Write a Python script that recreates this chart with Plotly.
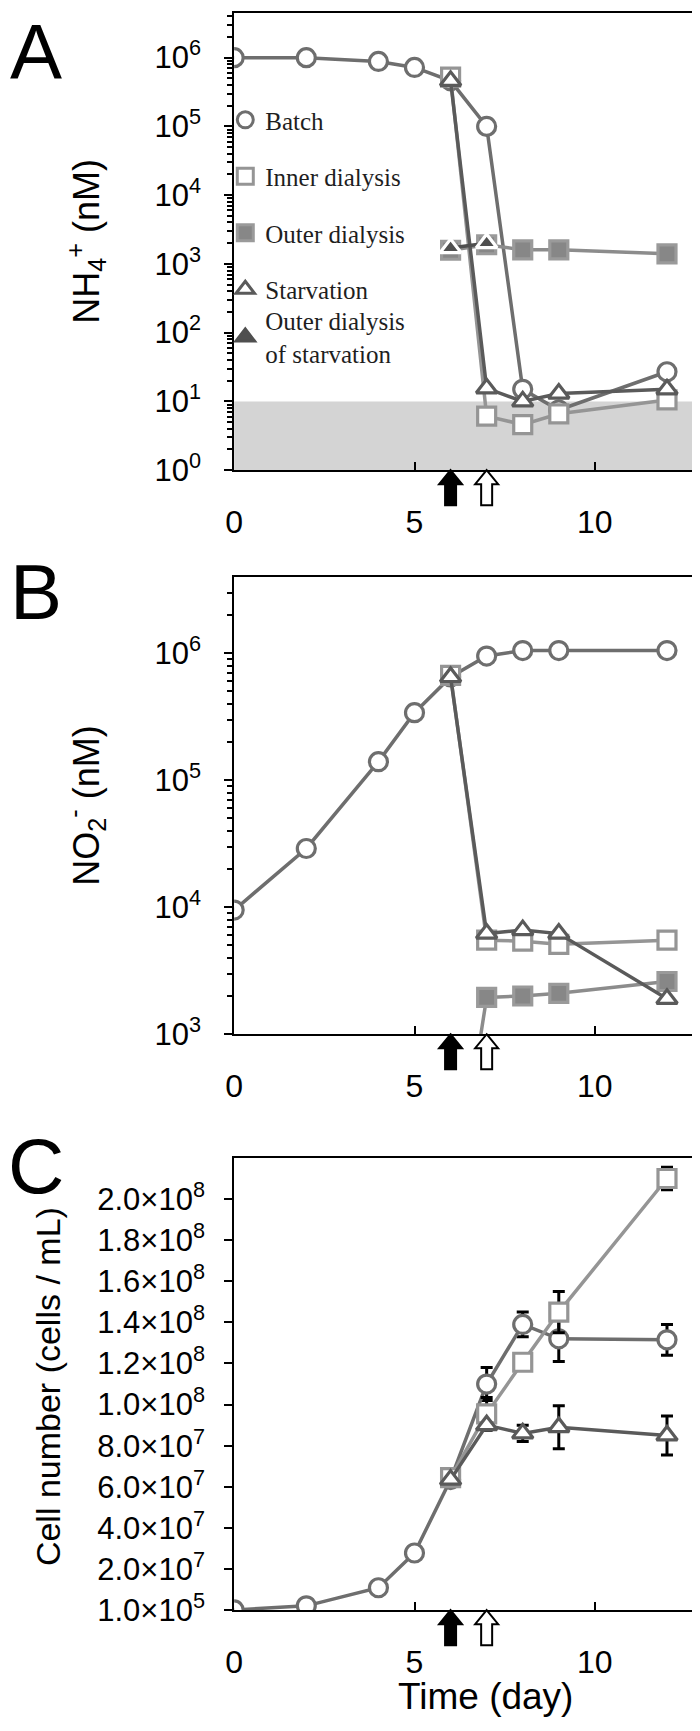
import plotly.graph_objects as go

W, H = 700, 1731

# ---- data ----
days = [0, 2, 4, 5, 6, 7, 8, 9, 12]
days_after = [6, 7, 8, 9, 12]
days_outer_starv = [6, 7]
arrow_days = [6, 7]
arrow_fill = ["black", "white"]

# A: NH4+ (nM)
nh4_batch = [1.0e6, 1.0e6, 8.8e5, 7.2e5, 4.6e5, 1.0e5, 15, 7.5, 27]
nh4_inner = [5.2e5, 6.1, 4.6, 6.6, 10.5]
nh4_outer = [1.58e3, 1.9e3, 1.6e3, 1.6e3, 1.4e3]
nh4_starv = [4.6e5, 15.5, 10, 13, 15]
nh4_outer_starv = [1.7e3, 2.0e3]

# B: NO2- (nM)
no2_batch = [9.5e3, 2.9e4, 1.4e5, 3.4e5, 6.5e5, 9.5e5, 1.05e6, 1.05e6, 1.05e6]
no2_inner = [6.7e5, 5.5e3, 5.4e3, 5.1e3, 5.5e3]
no2_outer = [30, 1.95e3, 2.0e3, 2.1e3, 2.6e3]
no2_starv = [6.5e5, 6.2e3, 6.6e3, 6.2e3, 1.9e3]

# C: cell number (cells / mL)
cell_batch = [1.0e5, 2.1e6, 1.09e7, 2.78e7, 6.35e7, 1.10e8, 1.39e8, 1.32e8, 1.315e8]
cell_batch_err = [0, 0, 0, 0, 0, 8e6, 6e6, 1.1e7, 7.5e6]
cell_inner = [6.45e7, 9.55e7, 1.206e8, 1.45e8, 2.1e8]
cell_inner_err = [0, 8e6, 0, 1e7, 5.5e6]
cell_starv = [6.35e7, 9.0e7, 8.6e7, 8.9e7, 8.5e7]
cell_starv_err = [0, 0, 4e6, 1.05e7, 9.5e6]

log_ticks_a = [1, 10, 100, 1e3, 1e4, 1e5, 1e6]
log_ticks_b = [1e3, 1e4, 1e5, 1e6]
cell_ticks = [1e5, 2e7, 4e7, 6e7, 8e7, 1e8, 1.2e8, 1.4e8, 1.6e8, 1.8e8, 2e8]
cell_ticktext = ["1.0×10<sup>5</sup>", "2.0×10<sup>7</sup>", "4.0×10<sup>7</sup>",
                 "6.0×10<sup>7</sup>", "8.0×10<sup>7</sup>", "1.0×10<sup>8</sup>",
                 "1.2×10<sup>8</sup>", "1.4×10<sup>8</sup>", "1.6×10<sup>8</sup>",
                 "1.8×10<sup>8</sup>", "2.0×10<sup>8</sup>"]

STYLE = {
    "batch": dict(symbol="circle", fill="white", edge="#6e6e6e", line="#6e6e6e", name="Batch"),
    "inner": dict(symbol="square", fill="white", edge="#959595", line="#959595", name="Inner dialysis"),
    "outer": dict(symbol="square", fill="#878787", edge="#9a9a9a", line="#8c8c8c", name="Outer dialysis"),
    "starv": dict(symbol="triangle-up", fill="white", edge="#5a5a5a", line="#5a5a5a", name="Starvation"),
    "ostarv": dict(symbol="triangle-up", fill="#4f4f4f", edge="white", line="#4f4f4f",
                   name="Outer dialysis<br>of starvation"),
}

SANS = "Liberation Sans, Arial, sans-serif"
SERIF = "Liberation Serif, Times New Roman, serif"

fig = go.Figure()


def add_series(x, y, key, n, err=None):
    s = STYLE[key]
    fig.add_trace(go.Scatter(
        x=x, y=y, mode="lines+markers", showlegend=False,
        xaxis="x" if n == 1 else f"x{n}", yaxis="y" if n == 1 else f"y{n}",
        line=dict(color=s["line"], width=3.5),
        marker=dict(symbol=s["symbol"], size=18, color=s["fill"],
                    line=dict(color=s["edge"], width=3.2)),
        error_y=None if err is None else dict(type="data", array=err, color="black",
                                               thickness=3, width=6),
    ))


add_series(days, nh4_batch, "batch", 1)
add_series(days_after, nh4_inner, "inner", 1)
add_series(days_after, nh4_outer, "outer", 1)
add_series(days_after, nh4_starv, "starv", 1)
add_series(days_outer_starv, nh4_outer_starv, "ostarv", 1)

add_series(days, no2_batch, "batch", 2)
add_series(days_after, no2_inner, "inner", 2)
add_series(days_after, no2_outer, "outer", 2)
add_series(days_after, no2_starv, "starv", 2)

add_series(days, cell_batch, "batch", 3, cell_batch_err)
add_series(days_after, cell_inner, "inner", 3, cell_inner_err)
add_series(days_after, cell_starv, "starv", 3, cell_starv_err)

# legend-only markers for panel A; the two-line last entry sits in its own legend box
for key in ["batch", "inner", "outer", "starv", "ostarv"]:
    s = STYLE[key]
    fig.add_trace(go.Scatter(
        x=[None], y=[None], mode="markers", name=s["name"], legendgroup=key,
        legend="legend2" if key == "ostarv" else "legend",
        marker=dict(symbol=s["symbol"], size=20, color=s["fill"],
                    line=dict(color=s["edge"] if key != "ostarv" else s["fill"], width=3)),
    ))

# pixel layout
xl, xr = 220, 695
boxes = {1: (5, 467), 2: (575, 1037), 3: (1162, 1619)}


def ydom(top, bot):
    return [1 - bot / H, 1 - top / H]


axis_common = dict(showline=True, linecolor="black", linewidth=2, mirror=True,
                   showgrid=False, zeroline=False, tickcolor="black", tickwidth=2)

for n in (1, 2, 3):
    sfx = "" if n == 1 else str(n)
    fig.layout[f"xaxis{sfx}"] = dict(
        axis_common, domain=[xl / W, xr / W], range=[0, 13], anchor=f"y{sfx}",
        tickvals=[0, 5, 10], ticks="inside", ticklen=8,
        ticklabelstandoff=22, tickfont=dict(family=SANS, size=32, color="black"),
    )

fig.layout["yaxis"] = dict(
    axis_common, domain=ydom(*boxes[1]), type="log", range=[0, 6.65], anchor="x",
    tickvals=log_ticks_a, ticktext=[f"10<sup>{k}</sup>" for k in range(0, 7)],
    ticks="outside", ticklen=8, ticklabelstandoff=17,
    tickfont=dict(family=SANS, size=31, color="black"),
    minor=dict(ticks="outside", ticklen=5, tickwidth=1.5, tickcolor="black", dtick="D1"),
)
fig.layout["yaxis2"] = dict(
    axis_common, domain=ydom(*boxes[2]), type="log", range=[3, 6.6], anchor="x2",
    tickvals=log_ticks_b, ticktext=[f"10<sup>{k}</sup>" for k in range(3, 7)],
    ticks="outside", ticklen=8, ticklabelstandoff=17,
    tickfont=dict(family=SANS, size=31, color="black"),
    minor=dict(ticks="outside", ticklen=5, tickwidth=1.5, tickcolor="black", dtick="D1"),
)
fig.layout["yaxis3"] = dict(
    axis_common, domain=ydom(*boxes[3]), range=[0, 2.2e8], anchor="x3",
    tickvals=cell_ticks, ticktext=cell_ticktext,
    ticks="outside", ticklen=8, ticklabelstandoff=13,
    tickfont=dict(family=SANS, size=31, color="black"),
)

shapes = [dict(type="rect", xref="x domain", yref="y", x0=0, x1=1, y0=1, y1=10,
               fillcolor="#d4d4d4", line=dict(width=0), layer="below")]
arrow = "M 0 0 L 11.5 -14 L 5.5 -14 L 5.5 -35 L -5.5 -35 L -5.5 -14 L -11.5 -14 Z"
for n in (1, 2, 3):
    sfx = "" if n == 1 else str(n)
    for d, c in zip(arrow_days, arrow_fill):
        shapes.append(dict(type="path", path=arrow, xref=f"x{sfx}", yref="paper",
                           xsizemode="pixel", ysizemode="pixel", xanchor=d,
                           yanchor=1 - boxes[n][1] / H, fillcolor=c,
                           line=dict(color="black", width=2)))

annotations = []
for letter, (cx, cy) in zip("ABC", [(19, 44), (19, 590), (19, 1170)]):
    annotations.append(dict(text=letter, x=cx / W, y=1 - cy / H, xref="paper", yref="paper",
                            showarrow=False, xanchor="center", yanchor="middle",
                            font=dict(family=SANS, size=78, color="black")))
for txt, (cx, cy), sz in [("NH<sub>4</sub><sup>+</sup> (nM)", (70, 236), 36),
                          ("NO<sub>2</sub><sup>-</sup> (nM)", (70, 806), 36),
                          ("Cell number (cells / mL)", (31, 1393), 34)]:
    annotations.append(dict(text=txt, x=cx / W, y=1 - cy / H, xref="paper", yref="paper",
                            showarrow=False, xanchor="center", yanchor="middle",
                            textangle=-90, font=dict(family=SANS, size=sz, color="black")))
annotations.append(dict(text="Time (day)", x=475 / W, y=1 - 1706 / H, xref="paper",
                        yref="paper", showarrow=False, xanchor="center", yanchor="middle",
                        font=dict(family=SANS, size=37, color="black")))

legend_font = dict(family=SERIF, size=25, color="#1e1e1e")
leg = dict(x=211 / W, xanchor="left", yanchor="top", bgcolor="rgba(0,0,0,0)", font=legend_font)
fig.update_layout(
    width=W, height=H,
    margin=dict(l=0, r=0, t=0, b=0),
    paper_bgcolor="white", plot_bgcolor="white",
    shapes=shapes, annotations=annotations,
    showlegend=True,
    legend=dict(leg, y=1 - 90 / H, tracegroupgap=21),
    legend2=dict(leg, y=1 - 293 / H),
)

fig.write_html("out.html")
